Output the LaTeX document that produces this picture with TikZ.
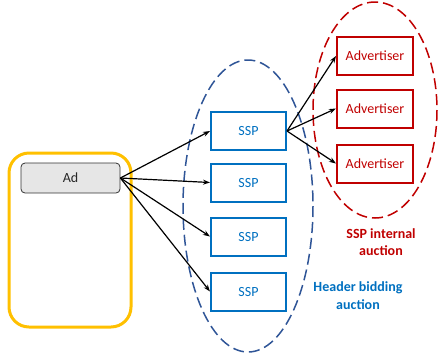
\documentclass[tikz,border=0pt]{standalone}
\usepackage{fontspec}
\setmainfont{Carlito}
\usetikzlibrary{arrows.meta}
\definecolor{gold}{HTML}{FFC000}
\definecolor{sspblue}{HTML}{0070C0}
\definecolor{advred}{HTML}{C00000}
\definecolor{ellblue}{HTML}{2F5597}
\definecolor{adgray}{HTML}{E6E6E6}
\tikzset{
  sspbox/.style={draw=sspblue, line width=2pt, minimum width=75pt, minimum height=38pt, text=sspblue, font=\fontsize{14}{16}\selectfont, inner sep=0pt},
  advbox/.style={draw=advred, line width=2pt, minimum width=76pt, minimum height=38pt, text=advred, font=\fontsize{14}{16}\selectfont, inner sep=0pt},
  conn/.style={-{Stealth[length=7pt,width=5pt]}, line width=1.2pt, black},
  ell/.style={dash pattern=on 11pt off 5pt, line width=1.5pt},
  lbl/.style={font=\bfseries\fontsize{14}{17.5}\selectfont, align=center, inner sep=0pt}
}
\begin{document}
\begin{tikzpicture}[x=1pt,y=-1pt]
\useasboundingbox (0,0) rectangle (439,360);
% ellipses
\draw[ell, draw=ellblue] (248,206) ellipse [x radius=65, y radius=146];
\draw[ell, draw=advred] (375,110) ellipse [x radius=62, y radius=108];
% yellow container
\node[draw=gold, line width=3pt, rounded corners=20pt, minimum width=122pt, minimum height=174pt, inner sep=0pt] (cont) at (70,240) {};
% Ad
\node[draw=black!80, fill=adgray, rounded corners=4pt, line width=0.8pt, minimum width=99pt, minimum height=30pt, inner sep=0pt, font=\fontsize{14}{16}\selectfont, text=black!85] (ad) at (70.5,178) {Ad};
% SSPs
\node[sspbox] (s1) at (248.5,131) {SSP};
\node[sspbox] (s2) at (248.5,182.5) {SSP};
\node[sspbox] (s3) at (248.5,236.5) {SSP};
\node[sspbox] (s4) at (248.5,291.5) {SSP};
% Advertisers
\node[advbox] (a1) at (375,56) {Advertiser};
\node[advbox] (a2) at (375,108.5) {Advertiser};
\node[advbox] (a3) at (375,163.5) {Advertiser};
% connectors
\foreach \s in {s1,s2,s3,s4} \draw[conn] (ad.east) -- (\s.west);
\foreach \a in {a1,a2,a3} \draw[conn] (s1.east) -- (\a.west);
% labels
\node[lbl, text=advred] (l1) at (381,242) {SSP internal\\auction};
\node[lbl, text=sspblue] (l2) at (358,295.5) {Header bidding\\auction};
\end{tikzpicture}
\end{document}
